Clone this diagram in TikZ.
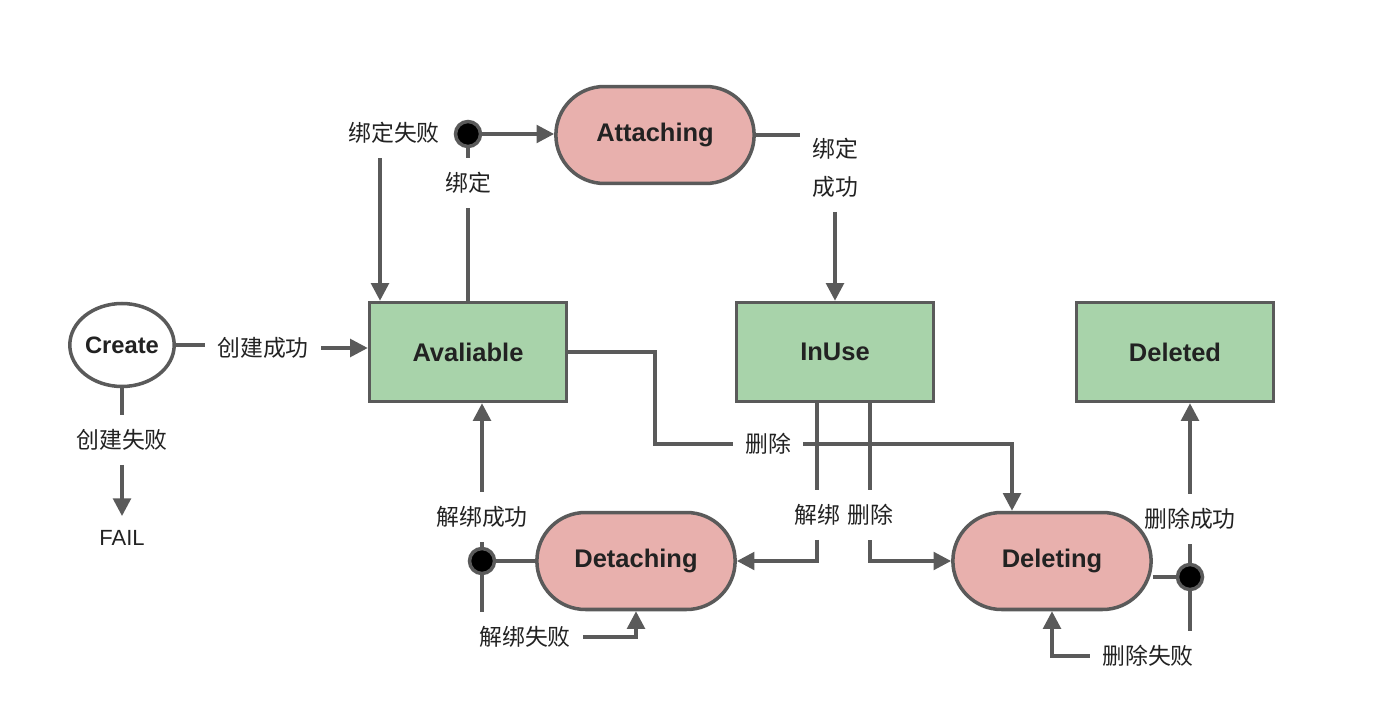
\documentclass[tikz,border=0pt]{standalone}
\usepackage{fontspec}
\setmainfont{Liberation Sans}
\newfontfamily\cjk{Noto Sans CJK SC}
\usetikzlibrary{arrows.meta, positioning, shapes.geometric, shapes.misc}
\definecolor{StateGreen}{HTML}{A8D3AA}
\definecolor{BusyPink}{HTML}{E8B0AD}
\definecolor{LineGray}{HTML}{5A5A5A}
\definecolor{InkDark}{HTML}{222222}

\tikzset{
    link/.style={draw=LineGray, line width=2pt},
    arr/.style={link, -{Triangle[length=10pt,width=10pt]}},
    state/.style={draw=LineGray, line width=2pt, fill=StateGreen, minimum width=3.94cm, minimum height=1.98cm,
        text=InkDark, font=\bfseries\fontsize{14.5}{16}\selectfont},
    busy/.style={rounded rectangle, draw=LineGray, line width=2pt, fill=BusyPink, minimum width=4.2cm,
        minimum height=1.94cm, text=InkDark, font=\bfseries\fontsize{14.5}{16}\selectfont},
    junction/.style={circle, fill=black, draw=LineGray, line width=2pt, minimum size=0.5cm, inner sep=0pt},
    lbl/.style={text=InkDark, font=\cjk\fontsize{13}{21.5}\selectfont, inner xsep=7pt, inner ysep=8pt, align=center}
}

\begin{document}
\begin{tikzpicture}[x=0.02cm, y=-0.02cm]
    \useasboundingbox (0,0) rectangle (1400,716);

    % States
    \node[draw=LineGray, line width=2pt, ellipse, fill=white, inner sep=0pt, minimum width=2.06cm, minimum height=1.66cm,
        text=InkDark, font=\bfseries\fontsize{13.5}{15}\selectfont] (create) at (122,345) {Create};
    \node[state] (aval) at (468,352) {Avaliable};
    \node[state] (inuse) at (835,352) {InUse};
    \node[state] (deleted) at (1175,352) {Deleted};
    \node[busy] (attaching) at (655,135) {Attaching};
    \node[busy] (detaching) at (636,561) {Detaching};
    \node[busy] (deleting) at (1052,561) {Deleting};

    % Junction points
    \node[junction] (adot) at (468,134) {};
    \node[junction] (ddot) at (482,561) {};
    \node[junction] (xdot) at (1190,577) {};

    % Labels
    \node[lbl] (bindfail) at (394,133) {绑定失败};
    \node[lbl] (bind) at (468,183) {绑定};
    \node[lbl] (bindok) at (835,168) {绑定\\成功};
    \node[lbl] (createok) at (263,348) {创建成功};
    \node[lbl] (createfail) at (122,440) {创建失败};
    \node[lbl, font=\fontsize{12.5}{15}\selectfont] (fail) at (122,538) {FAIL};
    \node[lbl] (del1) at (768,444) {删除};
    \node[lbl] (unbind) at (817,515) {解绑};
    \node[lbl] (del2) at (870,515) {删除};
    \node[lbl] (unbindok) at (482,517) {解绑成功};
    \node[lbl] (unbindfail) at (525,637) {解绑失败};
    \node[lbl] (delok) at (1190,519) {删除成功};
    \node[lbl] (delfail) at (1148,656) {删除失败};

    % Create
    \draw[link] (create.east) -- (create.east -| createok.west);
    \draw[arr] (createok.east) -- (createok.east -| aval.west);
    \draw[link] (create) -- (createfail);
    \draw[arr] (createfail) -- (fail);

    % Attach
    \coordinate (bf) at (380,0);
    \draw[arr] (bindfail.south -| bf) -- (aval.north -| bf);
    \draw[link] (aval.north) -- (bind);
    \draw[link] (bind) -- (adot);
    \draw[arr] (adot) -- (adot -| attaching.west);
    \draw[link] (attaching.east) -- (attaching.east -| bindok.west);
    \draw[arr] (bindok) -- (bindok |- inuse.north);

    % Delete from Avaliable
    \coordinate (bend) at (655,444);
    \draw[link] (aval.east) -| (bend) -- (del1.west);
    \draw[arr] (del1.east) -| ([xshift=-0.8cm]deleting.north);

    % From InUse
    \draw[link] (inuse.south -| unbind) -- (unbind);
    \draw[arr] (unbind.south) |- (detaching.east);
    \draw[link] (inuse.south -| del2) -- (del2);
    \draw[arr] (del2.south) |- (deleting.west);

    % Detach results
    \draw[link] (detaching.west) -- (ddot);
    \draw[link] (ddot) -- (unbindok);
    \draw[arr] (unbindok) -- (unbindok |- aval.south);
    \draw[link] (ddot) -- (ddot |- unbindfail.north);
    \draw[arr] (unbindfail.east) -| (detaching.south);

    % Delete results
    \draw[link] (xdot -| deleting.east) -- (xdot);
    \draw[link] (xdot) -- (delok);
    \draw[arr] (delok) -- (delok |- deleted.south);
    \draw[link] (xdot) -- (xdot |- delfail.north);
    \draw[arr] (delfail.west) -| (deleting.south);
\end{tikzpicture}
\end{document}
